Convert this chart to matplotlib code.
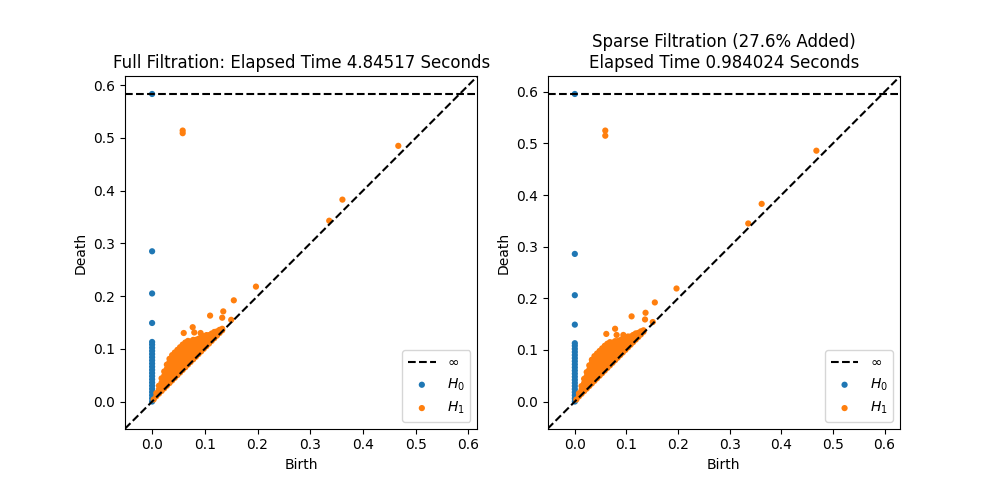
import numpy as np
import matplotlib
matplotlib.use("Agg")
import matplotlib.pyplot as plt

# dense H1 cluster near the diagonal, read column by column: birth -> deaths
cluster_cols = {
    0.003: [0.004],
    0.008: [0.010, 0.016],
    0.013: [0.015, 0.023, 0.030],
    0.018: [0.020, 0.028, 0.036, 0.044],
    0.023: [0.025, 0.033, 0.041, 0.049, 0.057],
    0.028: [0.030, 0.038, 0.046, 0.054, 0.062, 0.070],
    0.033: [0.035, 0.043, 0.051, 0.059, 0.067, 0.075, 0.081],
    0.038: [0.040, 0.048, 0.056, 0.064, 0.072, 0.080, 0.088],
    0.043: [0.045, 0.053, 0.061, 0.069, 0.077, 0.085, 0.093],
    0.048: [0.050, 0.058, 0.066, 0.074, 0.082, 0.090, 0.098],
    0.053: [0.055, 0.063, 0.071, 0.079, 0.087, 0.095, 0.103],
    0.058: [0.060, 0.068, 0.076, 0.084, 0.092, 0.100, 0.108],
    0.063: [0.065, 0.073, 0.081, 0.089, 0.097, 0.105, 0.112],
    0.068: [0.070, 0.078, 0.086, 0.094, 0.102, 0.110, 0.115],
    0.073: [0.075, 0.083, 0.091, 0.099, 0.107, 0.114],
    0.078: [0.080, 0.088, 0.096, 0.104, 0.112, 0.117],
    0.083: [0.085, 0.093, 0.101, 0.109, 0.117],
    0.088: [0.090, 0.098, 0.106, 0.114, 0.119],
    0.093: [0.095, 0.103, 0.111, 0.119, 0.122],
    0.098: [0.100, 0.108, 0.116, 0.124],
    0.103: [0.105, 0.113, 0.121, 0.126],
    0.108: [0.110, 0.118, 0.126],
    0.113: [0.115, 0.123, 0.129],
    0.118: [0.120, 0.128, 0.132],
    0.123: [0.125, 0.133],
    0.128: [0.130, 0.136],
    0.133: [0.135, 0.138],
}

# H0 column (birth 0) deaths
h0_column = [0.000, 0.006, 0.012, 0.018, 0.024, 0.030, 0.036, 0.042, 0.048,
             0.054, 0.060, 0.066, 0.072, 0.078, 0.084, 0.090, 0.096, 0.102,
             0.108, 0.113]
h0_full_extra = [0.149, 0.205, 0.285, np.inf]
h0_sparse_extra = [0.149, 0.206, 0.286, np.inf]

h1_full_outliers = [
    (0.058, 0.514), (0.058, 0.509), (0.467, 0.485), (0.361, 0.383),
    (0.336, 0.343), (0.197, 0.218), (0.155, 0.192), (0.135, 0.171),
    (0.133, 0.159), (0.110, 0.163), (0.150, 0.155), (0.077, 0.141),
    (0.060, 0.130), (0.080, 0.131), (0.092, 0.130),
]
h1_sparse_outliers = [
    (0.059, 0.525), (0.059, 0.515), (0.468, 0.486), (0.362, 0.383),
    (0.336, 0.345), (0.197, 0.219), (0.155, 0.192), (0.137, 0.172),
    (0.136, 0.159), (0.110, 0.165), (0.151, 0.154), (0.078, 0.141),
    (0.061, 0.131), (0.081, 0.129), (0.094, 0.129),
]

full_title = "Full Filtration: Elapsed Time 4.84517 Seconds"
sparse_title = "Sparse Filtration (27.6% Added)\nElapsed Time 0.984024 Seconds"


def make_dgms(h0_extra, h1_outliers):
    h0 = np.array([[0.0, d] for d in h0_column + h0_extra])
    h1 = [(b, d) for b, ds in cluster_cols.items() for d in ds]
    h1 = np.array(h1 + h1_outliers)
    return [h0, h1]


def plot_dgms(ax, dgms, title):
    dgms = [d.copy() for d in dgms]
    concat = np.concatenate(dgms).flatten()
    finite = concat[~np.isinf(concat)]
    ax_min, ax_max = np.min(finite), np.max(finite)
    buffer = (ax_max - ax_min) / 5
    x_down = ax_min - buffer / 2
    x_up = ax_max + buffer
    yr = x_up - x_down

    ax.plot([x_down, x_up], [x_down, x_up], "--", c="k")
    b_inf = x_down + yr * 0.95
    ax.plot([x_down, x_up], [b_inf, b_inf], "--", c="k", label=r"$\infty$")
    for dgm in dgms:
        dgm[np.isinf(dgm)] = b_inf

    for i, dgm in enumerate(dgms):
        ax.scatter(dgm[:, 0], dgm[:, 1], 20, label="$H_%d$" % i,
                   edgecolor="none")

    ax.set_xlim([x_down, x_up])
    ax.set_ylim([x_down, x_up])
    ax.set_aspect("equal", "box")
    ax.set_xlabel("Birth")
    ax.set_ylabel("Death")
    ax.legend(loc="lower right")
    ax.set_title(title)


fig, (ax1, ax2) = plt.subplots(1, 2, figsize=(10, 5), dpi=100)
plot_dgms(ax1, make_dgms(h0_full_extra, h1_full_outliers), full_title)
plot_dgms(ax2, make_dgms(h0_sparse_extra, h1_sparse_outliers), sparse_title)

fig.savefig("out.png", dpi=100)
